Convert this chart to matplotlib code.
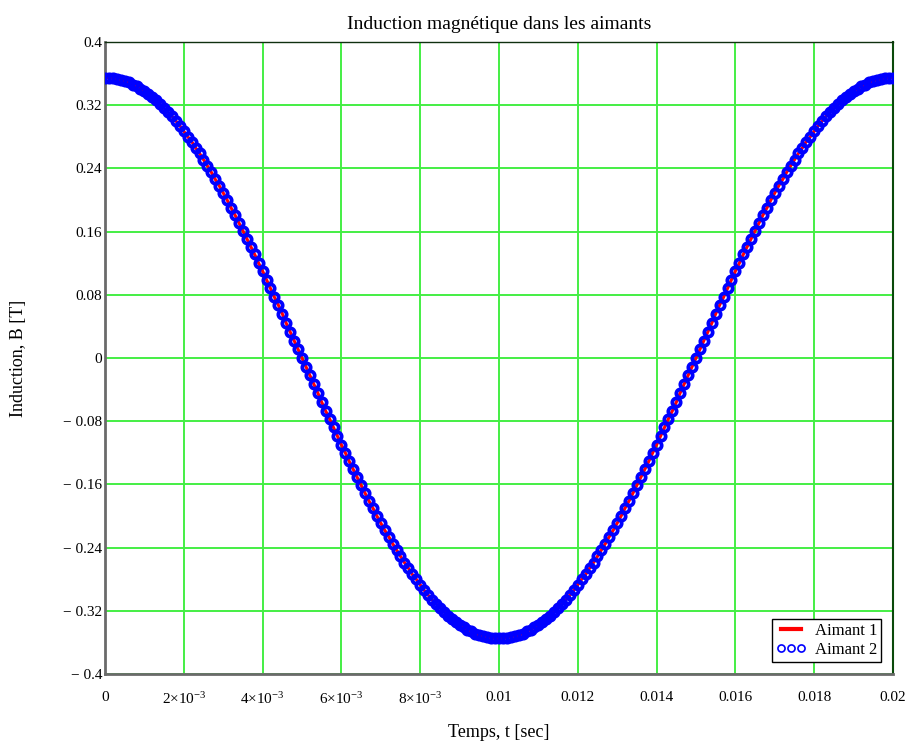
import numpy as np
import matplotlib
matplotlib.use("Agg")
import matplotlib.pyplot as plt
from matplotlib.ticker import FixedLocator, FixedFormatter

plt.rcParams["font.family"] = ["Liberation Serif", "DejaVu Serif"]
plt.rcParams["mathtext.fontset"] = "custom"
plt.rcParams["mathtext.rm"] = "Liberation Serif"
plt.rcParams["mathtext.it"] = "Liberation Serif:italic"

# induction, one sample every 1e-4 s from 0 to 0.02 s
b_aimant1 = [
    0.355, 0.355, 0.354, 0.353, 0.352, 0.351, 0.349, 0.346, 0.344, 0.341,
    0.338, 0.334, 0.330, 0.326, 0.321, 0.316, 0.311, 0.306, 0.300, 0.294,
    0.287, 0.280, 0.274, 0.266, 0.259, 0.251, 0.243, 0.235, 0.226, 0.218,
    0.209, 0.200, 0.190, 0.181, 0.171, 0.161, 0.151, 0.141, 0.131, 0.120,
    0.110, 0.099, 0.088, 0.077, 0.067, 0.056, 0.044, 0.033, 0.022, 0.011,
    0.000, -0.011, -0.022, -0.033, -0.044, -0.056, -0.067, -0.077, -0.088, -0.099,
    -0.110, -0.120, -0.131, -0.141, -0.151, -0.161, -0.171, -0.181, -0.190, -0.200,
    -0.209, -0.218, -0.226, -0.235, -0.243, -0.251, -0.259, -0.266, -0.274, -0.280,
    -0.287, -0.294, -0.300, -0.306, -0.311, -0.316, -0.321, -0.326, -0.330, -0.334,
    -0.338, -0.341, -0.344, -0.346, -0.349, -0.351, -0.352, -0.353, -0.354, -0.355,
    -0.355, -0.355, -0.354, -0.353, -0.352, -0.351, -0.349, -0.346, -0.344, -0.341,
    -0.338, -0.334, -0.330, -0.326, -0.321, -0.316, -0.311, -0.306, -0.300, -0.294,
    -0.287, -0.280, -0.274, -0.266, -0.259, -0.251, -0.243, -0.235, -0.226, -0.218,
    -0.209, -0.200, -0.190, -0.181, -0.171, -0.161, -0.151, -0.141, -0.131, -0.120,
    -0.110, -0.099, -0.088, -0.077, -0.067, -0.056, -0.044, -0.033, -0.022, -0.011,
    0.000, 0.011, 0.022, 0.033, 0.044, 0.056, 0.067, 0.077, 0.088, 0.099,
    0.110, 0.120, 0.131, 0.141, 0.151, 0.161, 0.171, 0.181, 0.190, 0.200,
    0.209, 0.218, 0.226, 0.235, 0.243, 0.251, 0.259, 0.266, 0.274, 0.280,
    0.287, 0.294, 0.300, 0.306, 0.311, 0.316, 0.321, 0.326, 0.330, 0.334,
    0.338, 0.341, 0.344, 0.346, 0.349, 0.351, 0.352, 0.353, 0.354, 0.355,
    0.355,
]
# the two magnets lie on top of each other in the picture
b_aimant2 = list(b_aimant1)
t = np.linspace(0, 0.02, len(b_aimant1))

x_ticks = [0, 0.002, 0.004, 0.006, 0.008, 0.01, 0.012, 0.014, 0.016, 0.018, 0.02]
x_labels = ["0", r"$2{\times}10^{-3}$", r"$4{\times}10^{-3}$", r"$6{\times}10^{-3}$",
            r"$8{\times}10^{-3}$", "0.01", "0.012", "0.014", "0.016", "0.018", "0.02"]
y_ticks = [0.4, 0.32, 0.24, 0.16, 0.08, 0, -0.08, -0.16, -0.24, -0.32, -0.4]
y_labels = ["0.4", "0.32", "0.24", "0.16", "0.08", "0", "\u2212 0.08", "\u2212 0.16",
            "\u2212 0.24", "\u2212 0.32", "\u2212 0.4"]

fig = plt.figure(figsize=(9.09, 7.43), dpi=100)
ax = fig.add_axes([0.1155, 0.0929, 0.8669, 0.8506])

ax.plot(t, b_aimant1, color="red", lw=2.2, label="Aimant 1", zorder=3)
ax.plot(t, b_aimant2, ls="none", marker="o", ms=6, mfc="none", mec="#0000ff",
        mew=2.7, label="Aimant 2", zorder=4)

ax.set_xlim(0, 0.02)
ax.set_ylim(-0.4, 0.4)
ax.xaxis.set_major_locator(FixedLocator(x_ticks))
ax.xaxis.set_major_formatter(FixedFormatter(x_labels))
ax.yaxis.set_major_locator(FixedLocator(y_ticks))
ax.yaxis.set_major_formatter(FixedFormatter(y_labels))
ax.tick_params(length=0, labelsize=11, pad=2)
ax.tick_params(axis="x", pad=12)
ax.grid(True, color="#44ee44", lw=1.4)
ax.set_axisbelow(True)

for side in ["left", "bottom"]:
    ax.spines[side].set_color("#6a6a6a")
    ax.spines[side].set_linewidth(2)
ax.spines["top"].set_color("#103010")
ax.spines["top"].set_linewidth(1)
ax.spines["right"].set_color("#0a4a0a")
ax.spines["right"].set_linewidth(1.5)

ax.set_title("Induction magnétique dans les aimants", fontsize=14, pad=9)
ax.set_xlabel("Temps, t [sec]", fontsize=13)
ax.set_ylabel("Induction, B [T]", fontsize=13)
ax.xaxis.set_label_coords(0.5, -0.079)
ax.yaxis.set_label_coords(-0.099, 0.5)

leg = ax.legend(loc="lower right", fontsize=12, numpoints=3, markerscale=0.85,
                handlelength=1.8, handletextpad=0.5, fancybox=False,
                framealpha=1, edgecolor="black", borderpad=0.25,
                labelspacing=0.2, borderaxespad=0.7)
leg.get_frame().set_linewidth(1)
for h in leg.legend_handles:
    if h.get_marker() == "o":
        h.set_markeredgewidth(1.2)
    else:
        h.set_linewidth(3)

fig.savefig("out.png", dpi=100)
